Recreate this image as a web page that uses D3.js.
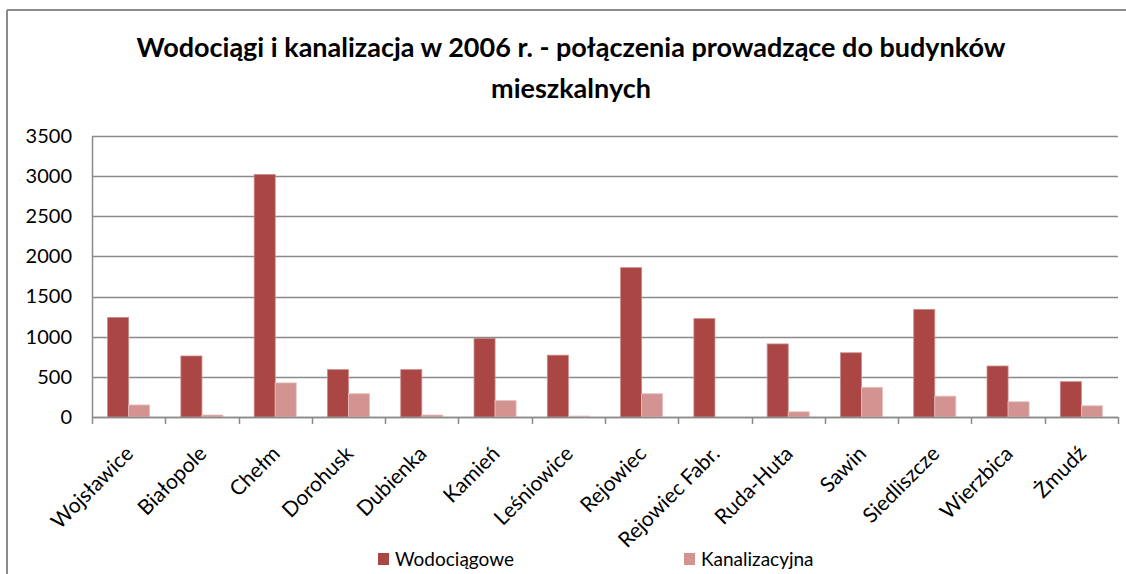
<!DOCTYPE html>
<html>
<head>
<meta charset="utf-8">
<script src="https://cdn.jsdelivr.net/npm/d3@7"></script>
<style>
  body { margin: 0; background: #fff; }
  text { font-family: Lato, "Open Sans", sans-serif; fill: #000; }
</style>
</head>
<body>
<div id="chart"></div>
<script>
// data
var gminy = ["Wojsławice", "Białopole", "Chełm", "Dorohusk", "Dubienka", "Kamień", "Leśniowice",
  "Rejowiec", "Rejowiec Fabr.", "Ruda-Huta", "Sawin", "Siedliszcze", "Wierzbica", "Żmudź"];
var wodociagowe = [1240, 760, 3020, 590, 590, 980, 770, 1860, 1225, 910, 800, 1340, 635, 440];
var kanalizacyjna = [150, 25, 425, 290, 25, 205, 12, 290, 0, 65, 370, 260, 190, 140];
var seriesNames = ["Wodociągowe", "Kanalizacyjna"];
var yTicks = [0, 500, 1000, 1500, 2000, 2500, 3000, 3500];

var colors = ["#AA4643", "#D39391"];

var W = 1126, H = 574;
var margin = {top: 136, right: 8, bottom: 157, left: 92},
    width = W - margin.left - margin.right,
    height = H - margin.top - margin.bottom;

var svg = d3.select("#chart").append("svg")
  .attr("width", W).attr("height", H);

// frame (only top and left visible in the reference)
svg.append("line").attr("x1", 7).attr("x2", W).attr("y1", 10).attr("y2", 10)
  .attr("stroke", "#8c8c8c").attr("stroke-width", 2);
svg.append("line").attr("x1", 7).attr("x2", 7).attr("y1", 10).attr("y2", H)
  .attr("stroke", "#8c8c8c").attr("stroke-width", 2);

// title
var title = svg.append("text").attr("text-anchor", "middle")
  .style("font-size", "27px").style("font-weight", "bold");
title.append("tspan").attr("x", 571).attr("y", 57)
  .text("Wodociągi i kanalizacja w 2006 r. - połączenia prowadzące do budynków");
title.append("tspan").attr("x", 571).attr("y", 98).text("mieszkalnych");

var g = svg.append("g").attr("transform", "translate(" + margin.left + "," + margin.top + ")");

var x = d3.scaleBand().domain(gminy).range([0, width]).paddingInner(0).paddingOuter(0);
var y = d3.scaleLinear().domain([0, 3500]).range([height, 0]);
var barW = x.bandwidth() * 0.287;

// gridlines
g.selectAll(".grid").data(yTicks).enter().append("line")
  .attr("x1", 0).attr("x2", width)
  .attr("y1", function(d) { return Math.round(y(d)) + 0.5; })
  .attr("y2", function(d) { return Math.round(y(d)) + 0.5; })
  .attr("stroke", "#8a8a8a").attr("stroke-width", 1.5);

// y axis
var yAxis = g.append("g").call(d3.axisLeft(y).tickValues(yTicks).tickFormat(d3.format("d"))
  .tickSize(0).tickPadding(20));
yAxis.select(".domain").attr("stroke", "#8a8a8a").attr("stroke-width", 1.5);
yAxis.selectAll("text").style("font-size", "20px").style("font-family", "Lato, sans-serif").attr("fill", "#000");

// bars
var series = [wodociagowe, kanalizacyjna];
series.forEach(function(vals, si) {
  g.selectAll(".bar" + si).data(gminy).enter().append("rect")
    .attr("x", function(d) { return x(d) + x.bandwidth() / 2 - barW + si * barW; })
    .attr("y", function(d, i) { return y(vals[i]); })
    .attr("width", barW)
    .attr("height", function(d, i) { return height - y(vals[i]); })
    .attr("fill", colors[si])
    .attr("stroke", si == 0 ? "#c98b89" : "#e6c2c1")
    .attr("stroke-width", 0.8);
});

// x axis
g.append("line").attr("x1", 0).attr("x2", width).attr("y1", height + 0.5).attr("y2", height + 0.5)
  .attr("stroke", "#8a8a8a").attr("stroke-width", 1.5);
var bounds = d3.range(gminy.length + 1).map(function(i) { return i * x.bandwidth(); });
g.selectAll(".xtick").data(bounds).enter().append("line")
  .attr("x1", function(d) { return Math.round(d) + 0.5; })
  .attr("x2", function(d) { return Math.round(d) + 0.5; })
  .attr("y1", height).attr("y2", height + 7)
  .attr("stroke", "#8a8a8a").attr("stroke-width", 1.5);

g.selectAll(".xlab").data(gminy).enter().append("text")
  .attr("text-anchor", "end")
  .style("font-size", "21px")
  .attr("transform", function(d) {
    return "translate(" + (x(d) + x.bandwidth() / 2 + 6) + "," + (height + 38) + ") rotate(-45)";
  })
  .text(function(d) { return d; });

// legend
var legend = svg.append("g");
var legX = [378, 684];
seriesNames.forEach(function(name, i) {
  legend.append("rect").attr("x", legX[i]).attr("y", 553).attr("width", 11).attr("height", 12)
    .attr("fill", colors[i]);
  legend.append("text").attr("x", legX[i] + 17).attr("y", 566)
    .style("font-size", "19px").text(name);
});
</script>
</body>
</html>
